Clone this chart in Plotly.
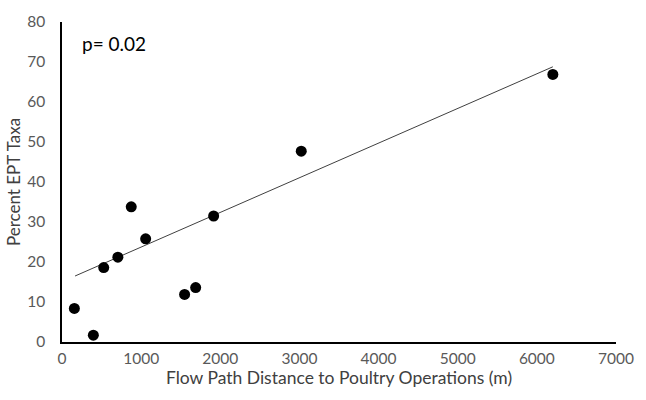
import plotly.graph_objects as go

distance_m = [156, 396, 527, 706, 875, 1057, 1549, 1689, 1916, 3023, 6202]
percent_ept = [8.4, 1.7, 18.6, 21.2, 33.8, 25.8, 11.9, 13.6, 31.5, 47.7, 66.9]
trend_x = [165, 6202]
trend_y = [16.5, 68.8]
x_ticks = [0, 1000, 2000, 3000, 4000, 5000, 6000, 7000]
y_ticks = [0, 10, 20, 30, 40, 50, 60, 70, 80]

font_family = "Lato, Open Sans, sans-serif"
tick_color = "#595959"

fig = go.Figure()
fig.add_trace(go.Scatter(x=trend_x, y=trend_y, mode="lines",
                         line=dict(color="#404040", width=1), showlegend=False, hoverinfo="skip"))
fig.add_trace(go.Scatter(x=distance_m, y=percent_ept, mode="markers",
                         marker=dict(color="black", size=11), showlegend=False))

fig.add_annotation(x=0.033, y=0.975, xref="paper", yref="paper", text="p= 0.02",
                   showarrow=False, xanchor="left", yanchor="top",
                   font=dict(family=font_family, size=19, color="black"))

fig.update_layout(
    width=646, height=400,
    margin=dict(l=62, r=19, t=15, b=58),
    plot_bgcolor="white", paper_bgcolor="white",
    font=dict(family=font_family, size=15, color=tick_color),
)
fig.update_xaxes(range=[0, 7000], tickvals=x_ticks, showgrid=False, zeroline=False,
                 showline=True, linecolor="black", linewidth=1.5, ticks="",
                 tickfont=dict(size=15.5, color=tick_color), ticklabelstandoff=2,
                 title=dict(text="Flow Path Distance to Poultry Operations (m)",
                            font=dict(size=17.5, color="#404040"), standoff=5))
fig.update_yaxes(range=[0, 80], tickvals=y_ticks, showgrid=False, zeroline=False,
                 showline=True, linecolor="black", linewidth=1.5, ticks="",
                 tickfont=dict(size=15.5, color=tick_color), ticklabelstandoff=12,
                 title=dict(text="Percent EPT Taxa",
                            font=dict(size=17, color="#404040"), standoff=2))

fig.write_html("out.html")
